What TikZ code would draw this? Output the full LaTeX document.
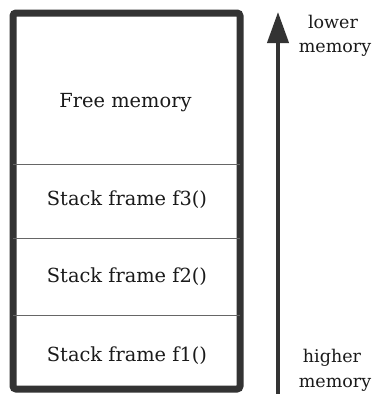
\documentclass[tikz,border=0pt]{standalone}
\usepackage{fontspec}
\setmainfont{DejaVu Serif}
\usetikzlibrary{arrows.meta}
\definecolor{ink}{HTML}{333333}
\definecolor{divider}{HTML}{666666}
\definecolor{txt}{HTML}{1A1A1A}
\begin{document}
\begin{tikzpicture}[x=1pt,y=-1pt,
  boxtext/.style={anchor=base,inner sep=0pt,text=txt,font=\fontsize{19.4}{23}\selectfont},
  sidetext/.style={anchor=base,inner sep=0pt,text=txt,font=\fontsize{17.5}{20}\selectfont},
  divline/.style={draw=divider,line width=1pt}]
\useasboundingbox (0,0) rectangle (372,394);
\fill[white] (0,0) rectangle (372,394);
% stack box
\node[draw=ink,line width=7pt,rounded corners=3pt,minimum width=227pt,minimum height=376pt,inner sep=0pt] (stack) at (126.5,201) {};
% dividers
\coordinate (d1l) at (13,164); \coordinate (d1r) at (240,164);
\coordinate (d2l) at (13,238); \coordinate (d2r) at (240,238);
\coordinate (d3l) at (13,315); \coordinate (d3r) at (240,315);
\draw[divline] (d1l) -- (d1r);
\draw[divline] (d2l) -- (d2r);
\draw[divline] (d3l) -- (d3r);
% texts
\node[boxtext] (free) at (125.5,107) {Free memory};
\node[boxtext] (f3) at (127,205) {Stack frame f3()};
\node[boxtext] (f2) at (127,282) {Stack frame f2()};
\node[boxtext] (f1) at (127,361) {Stack frame f1()};
% arrow
\coordinate (abot) at (278,394);
\coordinate (atop) at (278,12);
\draw[ink,line width=4pt,-{Triangle[length=31pt,width=21pt]}] (abot) -- (atop);
% side labels
\node[sidetext] (lower) at (333,28) {lower};
\node[sidetext] (lowmem) at (335,52) {memory};
\node[sidetext] (higher) at (332,362) {higher};
\node[sidetext] (highmem) at (335,387) {memory};
\end{tikzpicture}
\end{document}
